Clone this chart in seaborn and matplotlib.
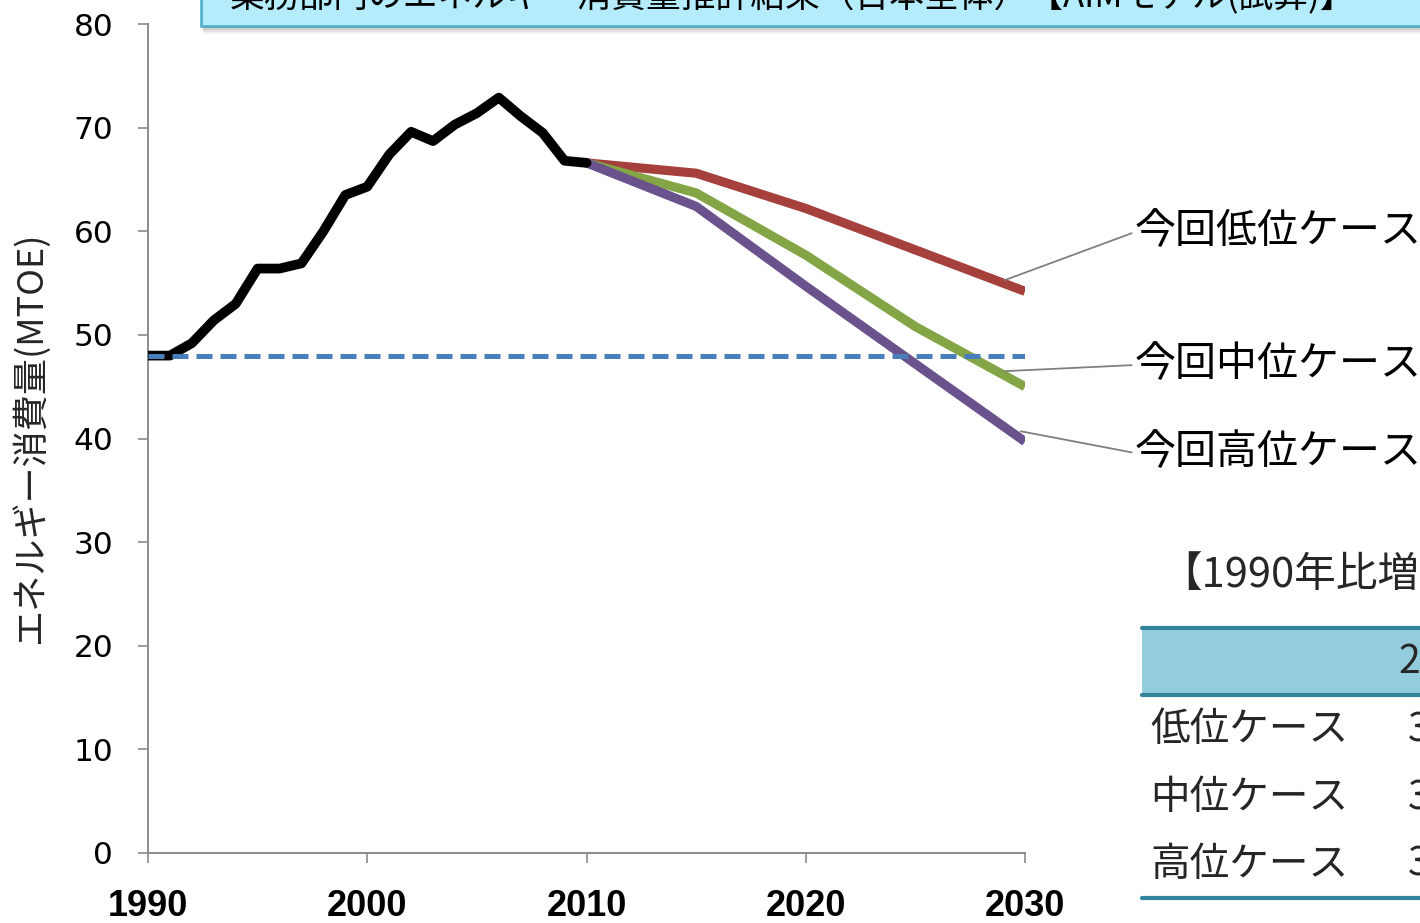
import matplotlib
matplotlib.use("Agg")
import matplotlib.pyplot as plt
from matplotlib.patches import Rectangle
from matplotlib.lines import Line2D
import seaborn as sns
import pandas as pd

# ---- data -------------------------------------------------------------
hist_years = list(range(1990, 2011))
hist_values = [48.0, 48.0, 49.2, 51.4, 53.0, 56.4, 56.4, 56.9, 60.0, 63.5,
               64.3, 67.4, 69.6, 68.7, 70.3, 71.4, 72.9, 71.1, 69.5, 66.8, 66.6]

proj_years = [2010, 2015, 2020, 2025, 2030]
low_case = [66.6, 65.6, 62.2, 58.2, 54.2]
mid_case = [66.6, 63.7, 57.7, 50.8, 45.0]
high_case = [66.6, 62.4, 54.7, 47.2, 39.7]

base_years = [1990, 2030]
base_level = [48.0, 48.0]

case_labels = ["今回低位ケース", "今回中位ケース", "今回高位ケース"]
title_text = "業務部門のエネルギー消費量推計結果（日本全体）【AIMモデル(試算)】"
ylabel_text = "エネルギー消費量(MTOE)"
x_ticks = [1990, 2000, 2010, 2020, 2030]
y_ticks = [0, 10, 20, 30, 40, 50, 60, 70, 80]

table_caption = "【1990年比増減率】"
table_header = "2030年"
table_rows = ["低位ケース", "中位ケース", "高位ケース"]
table_values = ["3", "3", "3"]

# ---- style ------------------------------------------------------------
sns.set_theme(style="white")
plt.rcParams["font.family"] = ["Noto Sans CJK JP", "DejaVu Sans"]

W, H = 1420, 923
fig = plt.figure(figsize=(W / 100, H / 100), dpi=100)


def fx(x):
    return x / W


def fy(y):
    return 1 - y / H


ax = fig.add_axes([fx(148), fy(853), fx(1025) - fx(148), fy(24) - fy(853)])

hist_df = pd.DataFrame({"year": hist_years, "value": hist_values})
proj_df = pd.DataFrame({"year": proj_years, "low": low_case,
                        "mid": mid_case, "high": high_case})
base_df = pd.DataFrame({"year": base_years, "value": base_level})

lw_case = 6.6
sns.lineplot(data=proj_df, x="year", y="low", color="#A5403D", linewidth=lw_case,
             solid_capstyle="butt", solid_joinstyle="round", ax=ax, zorder=3)
sns.lineplot(data=proj_df, x="year", y="mid", color="#84A546", linewidth=lw_case,
             solid_capstyle="butt", solid_joinstyle="round", ax=ax, zorder=3)
sns.lineplot(data=proj_df, x="year", y="high", color="#6A528C", linewidth=lw_case,
             solid_capstyle="butt", solid_joinstyle="round", ax=ax, zorder=3)
sns.lineplot(data=hist_df, x="year", y="value", color="black", linewidth=7.0,
             solid_capstyle="round", solid_joinstyle="round", ax=ax, zorder=4)
sns.lineplot(data=base_df, x="year", y="value", color="#4A7EBB", linewidth=3.6,
             linestyle=(0, (3.2, 1.6)), dash_capstyle="butt", ax=ax, zorder=5)

ax.set_xlim(1990, 2030)
ax.set_ylim(0, 80)
ax.set_xticks(x_ticks)
ax.set_yticks(y_ticks)
ax.set_xlabel("")
ax.set_ylabel("")
for side in ("top", "right"):
    ax.spines[side].set_visible(False)
for side in ("left", "bottom"):
    ax.spines[side].set_color("#8C8C8C")
    ax.spines[side].set_linewidth(1.4)
ax.tick_params(axis="both", which="major", direction="out", length=7,
               width=1.2, color="#8C8C8C", bottom=True, left=True)
ax.tick_params(axis="x", pad=19)
ax.tick_params(axis="y", pad=18)
for lab in ax.get_yticklabels():
    lab.set_fontfamily("DejaVu Sans")
    lab.set_fontsize(22.5)
    lab.set_color("black")
for lab in ax.get_xticklabels():
    lab.set_fontfamily("Liberation Sans")
    lab.set_fontsize(26)
    lab.set_fontweight("bold")
    lab.set_color("black")

fig.text(fx(30), fy(437), ylabel_text, rotation=90, ha="center", va="center",
         fontsize=26)

# ---- case labels with leader lines -------------------------------------
leader_starts = [(2029.1, 55.3), (2029.1, 46.5), (2029.8, 40.7)]
label_y = [232, 365, 453]
for text, (lx, ly), ty in zip(case_labels, leader_starts, label_y):
    ax.annotate(text, xy=(lx, ly), xycoords="data",
                xytext=(1135, H - ty), textcoords="figure pixels",
                ha="left", va="center", fontsize=29.5, color="black",
                annotation_clip=False,
                arrowprops=dict(arrowstyle="-", color="#808080", lw=1.3,
                                shrinkA=0, shrinkB=0, relpos=(0, 0.5)))

# ---- title banner (top, partly outside the canvas) ---------------------
for k, a in enumerate([0.10, 0.14, 0.20, 0.28]):
    off = 8 - 2 * k
    fig.add_artist(Rectangle((fx(203), fy(26 + off)), fx(1500) - fx(203),
                             fy(-40) - fy(26 + off), transform=fig.transFigure,
                             facecolor="#808080", alpha=a, edgecolor="none",
                             zorder=1))
fig.add_artist(Rectangle((fx(201), fy(26)), fx(1500) - fx(201), fy(-40) - fy(26),
                         transform=fig.transFigure, facecolor="#B5ECFB",
                         edgecolor="#4BACC6", linewidth=1.8, zorder=2))
fig.text(fx(230), fy(15), title_text, ha="left", va="bottom", fontsize=25,
         color="black", zorder=3)

# ---- summary table on the right ----------------------------------------
fig.text(fx(1160), fy(575), table_caption, ha="left", va="center", fontsize=30)
fig.add_artist(Rectangle((fx(1142), fy(695)), fx(1500) - fx(1142),
                         fy(628) - fy(695), transform=fig.transFigure,
                         facecolor="#93CDDD", edgecolor="none"))
for yy in (628, 695, 898):
    fig.add_artist(Line2D([fx(1142), fx(1500)], [fy(yy), fy(yy)],
                          transform=fig.transFigure, color="#31849B",
                          linewidth=3.0))
fig.text(fx(1398), fy(662), table_header, ha="left", va="center", fontsize=28)
for row, val, yy in zip(table_rows, table_values, [730, 798, 865]):
    fig.text(fx(1150), fy(yy), row, ha="left", va="center", fontsize=28.5)
    fig.text(fx(1408), fy(yy), val, ha="left", va="center", fontsize=28.5)

fig.savefig("out.png", dpi=100)
